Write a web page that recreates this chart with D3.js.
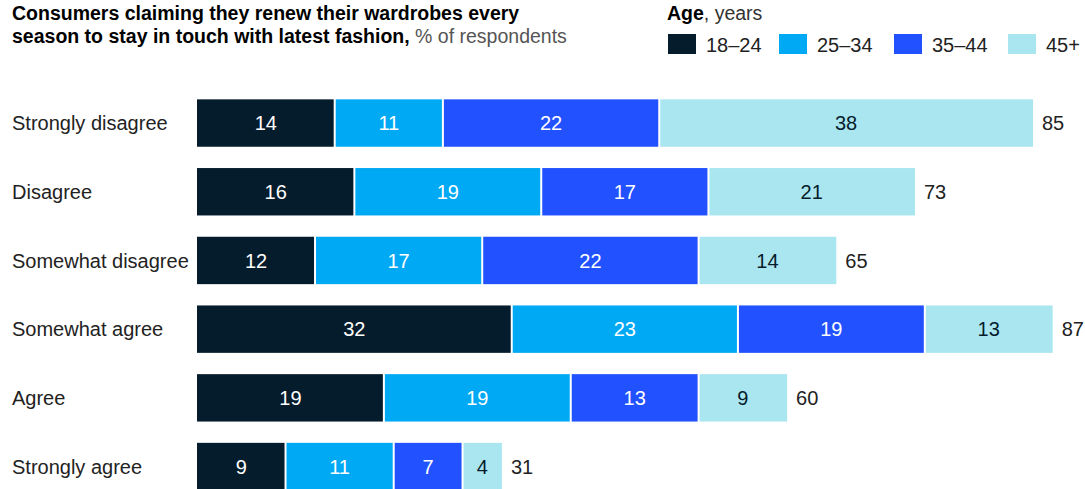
<!DOCTYPE html>
<html>
<head>
<meta charset="utf-8">
<script src="https://cdn.jsdelivr.net/npm/d3@7"></script>
<style>
  html, body { margin: 0; padding: 0; background: #fff; }
  svg { display: block; font-family: "Liberation Sans", Arial, Helvetica, sans-serif; }
</style>
</head>
<body>
<svg id="chart" width="1085" height="489"></svg>
<script>
// Share of respondents by answer and age group
const categories = ["Strongly disagree", "Disagree", "Somewhat disagree", "Somewhat agree", "Agree", "Strongly agree"];
const ageGroups = ["18–24", "25–34", "35–44", "45+"];
const age18to24 = [14, 16, 12, 32, 19, 9];
const age25to34 = [11, 19, 17, 23, 19, 11];
const age35to44 = [22, 17, 22, 19, 13, 7];
const age45plus = [38, 21, 14, 13, 9, 4];
const totals = [85, 73, 65, 87, 60, 31];

const colors = ["#051c2c", "#00a9f4", "#2251ff", "#aae6f0"];
const textColors = ["#ffffff", "#ffffff", "#ffffff", "#051c2c"];

const rows = categories.map((c, i) => ({
  category: c,
  "18–24": age18to24[i],
  "25–34": age25to34[i],
  "35–44": age35to44[i],
  "45+": age45plus[i],
  total: totals[i]
}));

const svg = d3.select("#chart");

// Title
const title = svg.append("text").attr("x", 12).attr("y", 20)
  .attr("font-size", 19.5).attr("fill", "#000");
title.append("tspan").attr("font-weight", "bold")
  .text("Consumers claiming they renew their wardrobes every");
const t2 = svg.append("text").attr("x", 12).attr("y", 43)
  .attr("font-size", 19.5).attr("fill", "#000");
t2.append("tspan").attr("font-weight", "bold").text("season to stay in touch with latest fashion,");
t2.append("tspan").attr("fill", "#555").text(" % of respondents");

// Legend
const lg = svg.append("g");
const lt = lg.append("text").attr("x", 667).attr("y", 20).attr("font-size", 19.5).attr("fill", "#000");
lt.append("tspan").attr("font-weight", "bold").text("Age");
lt.append("tspan").attr("fill", "#333").text(", years");
const legendX = [668, 779, 894, 1008];
ageGroups.forEach((g, i) => {
  lg.append("rect").attr("x", legendX[i]).attr("y", 34).attr("width", 28).attr("height", 20)
    .attr("fill", colors[i]);
  lg.append("text").attr("x", legendX[i] + 38).attr("y", 51.5).attr("font-size", 20)
    .attr("fill", "#222").text(g);
});

// Scales
const x = d3.scaleLinear().domain([0, 85]).range([197, 1033]);
const y = d3.scaleBand().domain(categories)
  .range([88.7, 88.7 + 6 * 68.7]).paddingInner(0.31).paddingOuter(0.155);

const stack = d3.stack().keys(ageGroups);
const series = stack(rows);

const gBars = svg.append("g");
series.forEach((s, si) => {
  const g = gBars.append("g");
  g.selectAll("rect").data(s).join("rect")
    .attr("x", d => x(d[0]) + (si === 0 ? 0 : 1))
    .attr("y", d => y(d.data.category))
    .attr("width", d => x(d[1]) - x(d[0]) - (si === 0 ? 1 : 2) + (si === 3 ? 1 : 0))
    .attr("height", y.bandwidth())
    .attr("fill", colors[si]);
  g.selectAll("text").data(s).join("text")
    .attr("x", d => (x(d[0]) + x(d[1])) / 2)
    .attr("y", d => y(d.data.category) + y.bandwidth() / 2)
    .attr("dy", "0.36em")
    .attr("text-anchor", "middle")
    .attr("font-size", 20)
    .attr("fill", textColors[si])
    .text(d => d[1] - d[0]);
});

// Totals
svg.append("g").selectAll("text").data(rows).join("text")
  .attr("x", d => x(d.total) + 9)
  .attr("y", d => y(d.category) + y.bandwidth() / 2)
  .attr("dy", "0.36em")
  .attr("font-size", 20)
  .attr("fill", "#222")
  .text(d => d.total);

// Category labels
svg.append("g").selectAll("text").data(categories).join("text")
  .attr("x", 12)
  .attr("y", d => y(d) + y.bandwidth() / 2)
  .attr("dy", "0.36em")
  .attr("font-size", 20)
  .attr("fill", "#222")
  .text(d => d);
</script>
</body>
</html>
